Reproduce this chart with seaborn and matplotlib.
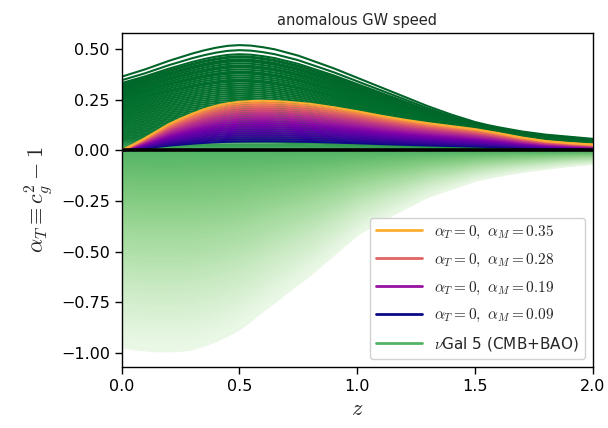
import numpy as np
import pandas as pd
import seaborn as sns
import matplotlib.pyplot as plt
from matplotlib.lines import Line2D

# redshift grid the shapes were read on
z_grid = [0.00, 0.05, 0.10, 0.15, 0.20, 0.25, 0.30, 0.35, 0.40, 0.45,
          0.50, 0.55, 0.60, 0.65, 0.70, 0.75, 0.80, 0.85, 0.90, 0.95,
          1.00, 1.05, 1.10, 1.15, 1.20, 1.25, 1.30, 1.35, 1.40, 1.45,
          1.50, 1.55, 1.60, 1.65, 1.70, 1.75, 1.80, 1.85, 1.90, 1.95, 2.00]

# normalised curve shapes
shape_pos = [0.700, 0.735, 0.770, 0.810, 0.850, 0.885, 0.920, 0.950, 0.975, 0.993,
             1.000, 0.995, 0.980, 0.960, 0.930, 0.900, 0.860, 0.820, 0.780, 0.735,
             0.690, 0.645, 0.600, 0.555, 0.510, 0.465, 0.420, 0.380, 0.340, 0.305,
             0.270, 0.243, 0.220, 0.200, 0.180, 0.165, 0.150, 0.140, 0.130, 0.120, 0.110]
shape_neg = [-0.980, -0.990, -0.995, -1.000, -1.000, -0.998, -0.990, -0.972, -0.950, -0.922,
             -0.890, -0.847, -0.800, -0.755, -0.710, -0.665, -0.620, -0.570, -0.520, -0.470,
             -0.420, -0.385, -0.350, -0.320, -0.290, -0.260, -0.230, -0.210, -0.190, -0.170,
             -0.150, -0.137, -0.125, -0.115, -0.105, -0.097, -0.090, -0.082, -0.075, -0.070, -0.065]
shape_mg = [0.000, 0.120, 0.250, 0.390, 0.530, 0.640, 0.740, 0.830, 0.900, 0.950,
            0.980, 0.995, 1.000, 0.995, 0.980, 0.960, 0.940, 0.905, 0.870, 0.830,
            0.790, 0.745, 0.700, 0.660, 0.620, 0.585, 0.550, 0.520, 0.490, 0.460,
            0.430, 0.390, 0.350, 0.305, 0.260, 0.225, 0.190, 0.170, 0.150, 0.135, 0.120]

# nu Gal 5 samples: peak value of each curve
gal_pos_peaks = [0.52, 0.495, 0.475, 0.465, 0.46, 0.45, 0.445, 0.44, 0.43, 0.42,
                 0.415, 0.41, 0.40, 0.39, 0.385, 0.38, 0.37, 0.36, 0.35, 0.345,
                 0.34, 0.33, 0.32, 0.31, 0.30, 0.29, 0.28, 0.27, 0.26, 0.25,
                 0.24, 0.23, 0.22, 0.21, 0.20, 0.19, 0.18, 0.17, 0.16, 0.15,
                 0.14, 0.13, 0.12, 0.11, 0.10, 0.09, 0.08, 0.07, 0.06, 0.05,
                 0.04, 0.03, 0.025, 0.02, 0.012]
gal_neg_peaks = [-0.01, -0.02, -0.03, -0.04, -0.05, -0.06, -0.07, -0.08, -0.09, -0.10,
                 -0.11, -0.12, -0.13, -0.14, -0.15, -0.16, -0.17, -0.18, -0.19, -0.20,
                 -0.21, -0.22, -0.23, -0.24, -0.25, -0.26, -0.27, -0.28, -0.29, -0.30,
                 -0.31, -0.32, -0.33, -0.34, -0.35, -0.36, -0.37, -0.38, -0.39, -0.40,
                 -0.41, -0.42, -0.43, -0.44, -0.45, -0.46, -0.47, -0.48, -0.49, -0.50,
                 -0.51, -0.52, -0.53, -0.54, -0.55, -0.56, -0.57, -0.58, -0.59, -0.60,
                 -0.61, -0.62, -0.63, -0.64, -0.65, -0.66, -0.67, -0.68, -0.69, -0.70,
                 -0.71, -0.72, -0.73, -0.74, -0.75, -0.76, -0.77, -0.78, -0.79, -0.80,
                 -0.81, -0.82, -0.83, -0.84, -0.85, -0.86, -0.87, -0.88, -0.89, -0.90,
                 -0.91, -0.92, -0.93, -0.94, -0.95, -0.96, -0.97, -0.98, -0.99]

# alpha_T = 0, alpha_M varied: peak value of each curve
mg_peaks = [0.245, 0.235, 0.225, 0.215, 0.205, 0.195, 0.185, 0.175, 0.165, 0.155,
            0.145, 0.135, 0.125, 0.115, 0.105, 0.095, 0.085, 0.075, 0.065, 0.055, 0.045]

legend_alpha_m = [0.35, 0.28, 0.19, 0.09]


def build(peaks, shape, tag):
    rows = []
    for i, p in enumerate(peaks):
        for z, s in zip(z_grid, shape):
            rows.append({"curve": f"{tag}{i}", "z": z, "alpha_T": abs(p) * s, "peak": p})
    return pd.DataFrame(rows)


sns.set_theme(style="ticks")
plt.rcParams["font.family"] = ["DejaVu Sans"]
plt.rcParams["mathtext.fontset"] = "cm"
plt.rcParams["axes.unicode_minus"] = True

greens = plt.get_cmap("Greens")
plasma = plt.get_cmap("plasma")


def green_col(p):
    return greens(np.interp(p, [-1.0, 0.0, 0.08, 0.52], [0.08, 0.58, 0.82, 0.9]))


def mg_col(p):
    return plasma(np.interp(p, [0.045, 0.13, 0.185, 0.215, 0.235, 0.245],
                            [0.0, 0.25, 0.45, 0.6, 0.72, 0.82]))


df_neg = build(gal_neg_peaks[::-1], shape_neg, "n")
df_pos = build(gal_pos_peaks[::-1], shape_pos, "p")
df_mg = build(mg_peaks[::-1], shape_mg, "m")

fig, ax = plt.subplots(figsize=(6.08, 4.28), dpi=100)
fig.subplots_adjust(left=0.2, right=0.975, top=0.923, bottom=0.143)

for df, colfn, z, lw in [(df_neg, green_col, 1, 2.0), (df_pos, green_col, 2, 1.5),
                         (df_mg, mg_col, 3, 1.5)]:
    order = list(dict.fromkeys(df["curve"]))
    pal = {c: colfn(df.loc[df["curve"] == c, "peak"].iloc[0]) for c in order}
    sns.lineplot(data=df, x="z", y="alpha_T", hue="curve", hue_order=order,
                 palette=pal, estimator=None, sort=False, legend=False,
                 lw=lw, ax=ax, zorder=z)

ax.axhline(0.0, color="black", lw=2.6, zorder=5)

ax.set_xlim(0, 2)
ax.set_ylim(-1.068, 0.58)
ax.set_xticks([0.0, 0.5, 1.0, 1.5, 2.0])
ax.set_yticks([-1.0, -0.75, -0.5, -0.25, 0.0, 0.25, 0.5])
ax.tick_params(labelsize=11.5, length=5, width=1, direction="out", colors="black")
for s in ax.spines.values():
    s.set_visible(True)
    s.set_color("black")
    s.set_linewidth(1.0)

ax.set_xlabel(r"$z$", fontsize=16)
ax.set_ylabel(r"$\alpha_T \equiv c_g^2 - 1$", fontsize=16)
ax.set_title("anomalous GW speed", fontsize=10.5)

handles = []
for am in legend_alpha_m:
    c = plasma(np.interp(am, [0.09, 0.35], [0.0, 0.82]))
    handles.append(Line2D([], [], color=c, lw=2,
                          label=rf"$\alpha_T = 0,\ \alpha_M = {am:.2f}$"))
handles.append(Line2D([], [], color=green_col(0.0), lw=2, label=r"$\nu$Gal 5 (CMB+BAO)"))
ax.legend(handles=handles, loc="lower right", fontsize=11, handlelength=3,
          labelspacing=0.7, framealpha=0.9)

fig.savefig("out.png", dpi=100)
